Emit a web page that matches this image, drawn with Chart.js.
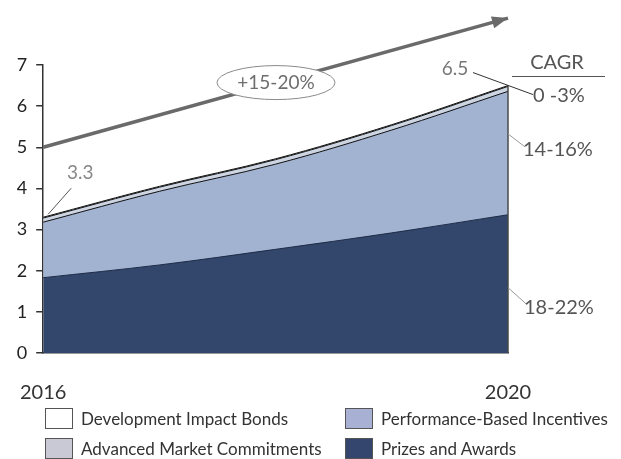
<!DOCTYPE html>
<html>
<head>
  <meta charset="utf-8">
  <title>Results-based financing by instrument, 2016-2020</title>
  <script src="https://cdnjs.cloudflare.com/ajax/libs/Chart.js/4.4.0/chart.umd.min.js"></script>
  <style>
    body {
      margin: 0;
      background: #ffffff;
      font-family: 'Lato', sans-serif;
    }

    .wrap {
      position: relative;
      width: 621px;
      height: 459px;
    }

    .legend {
      position: absolute;
      left: 0;
      top: 0;
      width: 621px;
      height: 459px;
      pointer-events: none;
    }

    .legend .item {
      position: absolute;
      display: flex;
      align-items: center;
      font-size: 17px;
      color: #333;
      white-space: nowrap;
    }

    .legend .box {
      width: 26px;
      height: 19px;
      border: 1px solid #555;
      margin-right: 8px;
    }
  </style>
</head>
<body>
  <div class="wrap">
    <canvas id="myChart" width="621" height="459"></canvas>
    <div class="legend" id="legend"></div>
  </div>

  <script>
    // 데이터
    const years = ['2016', '2017', '2018', '2019', '2020'];
    const shownYears = ['2016', '2020'];
    const prizes = [1.83, 2.14, 2.52, 2.92, 3.36];
    const performance = [1.35, 1.79, 2.07, 2.50, 3.00];
    const marketCommitments = [0.10, 0.10, 0.11, 0.11, 0.12];
    const impactBonds = [0.02, 0.02, 0.02, 0.02, 0.02];
    const trendLine = [5, null, null, null, 8.14];

    const startTotal = '3.3';
    const endTotal = '6.5';
    const trendLabel = '+15-20%';
    const cagrTitle = 'CAGR';
    const cagrLabels = ['0 -3%', '14-16%', '18-22%'];

    const colors = {
      prizes: '#33476c',
      performance: '#a2b3d2',
      market: '#cdd5e3',
      bonds: '#ffffff'
    };

    // 범례 (2열)
    const legendItems = [
      { text: 'Development Impact Bonds', color: '#ffffff', left: 45, top: 408 },
      { text: 'Performance-Based Incentives', color: '#a8b1d3', left: 345, top: 408 },
      { text: 'Advanced Market Commitments', color: '#c9c9d5', left: 45, top: 438 },
      { text: 'Prizes and Awards', color: '#34466e', left: 345, top: 438 }
    ];
    const legendEl = document.getElementById('legend');
    legendItems.forEach(function(it) {
      const div = document.createElement('div');
      div.className = 'item';
      div.style.left = it.left + 'px';
      div.style.top = it.top + 'px';
      div.innerHTML = '<span class="box" style="background:' + it.color + '"></span>' + it.text;
      legendEl.appendChild(div);
    });

    // 주석: 화살표, 타원, 리더 라인, CAGR 텍스트
    const annotations = {
      id: 'annotations',
      afterDatasetsDraw(chart) {
        const ctx = chart.ctx;
        const x = chart.scales.x;
        const y = chart.scales.y;
        const last = years.length - 1;
        const x0 = x.getPixelForValue(0);
        const x1 = x.getPixelForValue(last);
        const sumAt = i => prizes[i] + performance[i] + marketCommitments[i] + impactBonds[i];

        ctx.save();

        // 2020 오른쪽 경계선
        ctx.strokeStyle = '#4a4a4a';
        ctx.lineWidth = 1.5;
        ctx.beginPath();
        ctx.moveTo(x1, y.getPixelForValue(sumAt(last)));
        ctx.lineTo(x1, y.getPixelForValue(0));
        ctx.stroke();

        // 화살표 머리
        const ax0 = x0, ay0 = y.getPixelForValue(trendLine[0]);
        const ax1 = x1, ay1 = y.getPixelForValue(trendLine[last]);
        const ang = Math.atan2(ay1 - ay0, ax1 - ax0);
        ctx.fillStyle = '#6a6a6a';
        ctx.beginPath();
        ctx.moveTo(ax1, ay1);
        ctx.lineTo(ax1 - 16 * Math.cos(ang) + 6 * Math.sin(ang), ay1 - 16 * Math.sin(ang) - 6 * Math.cos(ang));
        ctx.lineTo(ax1 - 16 * Math.cos(ang) - 6 * Math.sin(ang), ay1 - 16 * Math.sin(ang) + 6 * Math.cos(ang));
        ctx.closePath();
        ctx.fill();

        // 성장률 타원
        const ex = 276;
        const ey = ay0 + (ay1 - ay0) * (ex - ax0) / (ax1 - ax0);
        ctx.fillStyle = '#ffffff';
        ctx.strokeStyle = '#8a8a8a';
        ctx.lineWidth = 1;
        ctx.beginPath();
        ctx.ellipse(ex, ey, 59, 17, 0, 0, Math.PI * 2);
        ctx.fill();
        ctx.stroke();
        ctx.fillStyle = '#6e6e6e';
        ctx.font = '19px Lato';
        ctx.textAlign = 'center';
        ctx.textBaseline = 'middle';
        ctx.fillText(trendLabel, ex, ey);

        // 시작/끝 합계 라벨
        const yStart = y.getPixelForValue(sumAt(0));
        const yEnd = y.getPixelForValue(sumAt(last));
        ctx.strokeStyle = '#555';
        ctx.lineWidth = 1;
        ctx.beginPath();
        ctx.moveTo(x0 + 5, yStart - 3);
        ctx.lineTo(x0 + 28, yStart - 29);
        ctx.stroke();
        ctx.fillStyle = '#888';
        ctx.font = '19px Lato';
        ctx.fillText(startTotal, x0 + 37, yStart - 44);

        ctx.strokeStyle = '#333';
        ctx.beginPath();
        ctx.moveTo(x1 - 35, yEnd - 13);
        ctx.lineTo(x1 + 25, yEnd + 9);
        ctx.stroke();
        ctx.fillStyle = '#777';
        ctx.fillText(endTotal, x1 - 53, yEnd - 17);

        // CAGR 제목과 밑줄
        ctx.fillStyle = '#555';
        ctx.font = '20px Lato';
        ctx.fillText(cagrTitle, 557, 63);
        ctx.strokeStyle = '#555';
        ctx.beginPath();
        ctx.moveTo(512, 76.5);
        ctx.lineTo(605, 76.5);
        ctx.stroke();

        // CAGR 값
        ctx.fillStyle = '#555';
        ctx.textAlign = 'left';
        ctx.fillText(cagrLabels[0], x1 + 25, yEnd + 10);

        const yPerf = y.getPixelForValue(prizes[last] + performance[last] * 0.55);
        const yPrize = y.getPixelForValue(prizes[last] * 0.35);
        ctx.strokeStyle = '#999';
        ctx.beginPath();
        ctx.moveTo(x1, yPerf - 13);
        ctx.lineTo(x1 + 17, yPerf);
        ctx.moveTo(x1, yPrize - 17);
        ctx.lineTo(x1 + 19, yPrize);
        ctx.stroke();
        ctx.fillText(cagrLabels[1], x1 + 15, yPerf + 3);
        ctx.fillText(cagrLabels[2], x1 + 16, yPrize + 3);

        ctx.restore();
      }
    };

    const ctx = document.getElementById('myChart').getContext('2d');
    const areaStyle = {
      pointRadius: 0,
      pointHoverRadius: 0,
      borderWidth: 1,
      tension: 0.35
    };

    const myChart = new Chart(ctx, {
      type: 'line',
      data: {
        labels: years,
        datasets: [
          Object.assign({
            label: 'Prizes and Awards',
            data: prizes,
            backgroundColor: colors.prizes,
            borderColor: '#1c2b45',
            fill: 'origin'
          }, areaStyle),
          Object.assign({
            label: 'Performance-Based Incentives',
            data: performance,
            backgroundColor: colors.performance,
            borderColor: '#111',
            fill: '-1'
          }, areaStyle),
          Object.assign({
            label: 'Advanced Market Commitments',
            data: marketCommitments,
            backgroundColor: colors.market,
            borderColor: '#111',
            fill: '-1'
          }, areaStyle),
          Object.assign({
            label: 'Development Impact Bonds',
            data: impactBonds,
            backgroundColor: colors.bonds,
            borderColor: '#111',
            fill: '-1'
          }, areaStyle),
          {
            label: 'trend',
            data: trendLine,
            stack: 'trend',
            spanGaps: true,
            fill: false,
            borderColor: '#6a6a6a',
            borderWidth: 3.5,
            pointRadius: 0,
            clip: false
          }
        ]
      },
      options: {
        responsive: false,
        animation: false,
        devicePixelRatio: 1,
        layout: {
          padding: { top: 65, right: 113, left: 0, bottom: 0 }
        },
        plugins: {
          legend: { display: false },
          tooltip: { enabled: false }
        },
        scales: {
          x: {
            grid: { display: false },
            border: { display: true, color: '#333', width: 1.5 },
            afterFit: function(scale) { scale.height = 106; },
            ticks: {
              autoSkip: false,
              maxRotation: 0,
              padding: 20,
              color: '#333',
              font: { family: 'Lato', size: 20, weight: 'normal' },
              callback: function(value) {
                const lbl = this.getLabelForValue(value);
                return shownYears.includes(lbl) ? lbl : '';
              }
            }
          },
          y: {
            stacked: true,
            min: 0,
            max: 7,
            afterFit: function(scale) { scale.width = 42; },
            grid: {
              drawOnChartArea: false,
              drawTicks: true,
              tickLength: 7,
              color: '#333',
              lineWidth: 1.5
            },
            border: { display: true, color: '#333', width: 1.5 },
            ticks: {
              stepSize: 1,
              padding: 9,
              color: '#222',
              font: { family: 'Lato', size: 18 }
            }
          }
        }
      },
      plugins: [annotations]
    });
  </script>
</body>
</html>
